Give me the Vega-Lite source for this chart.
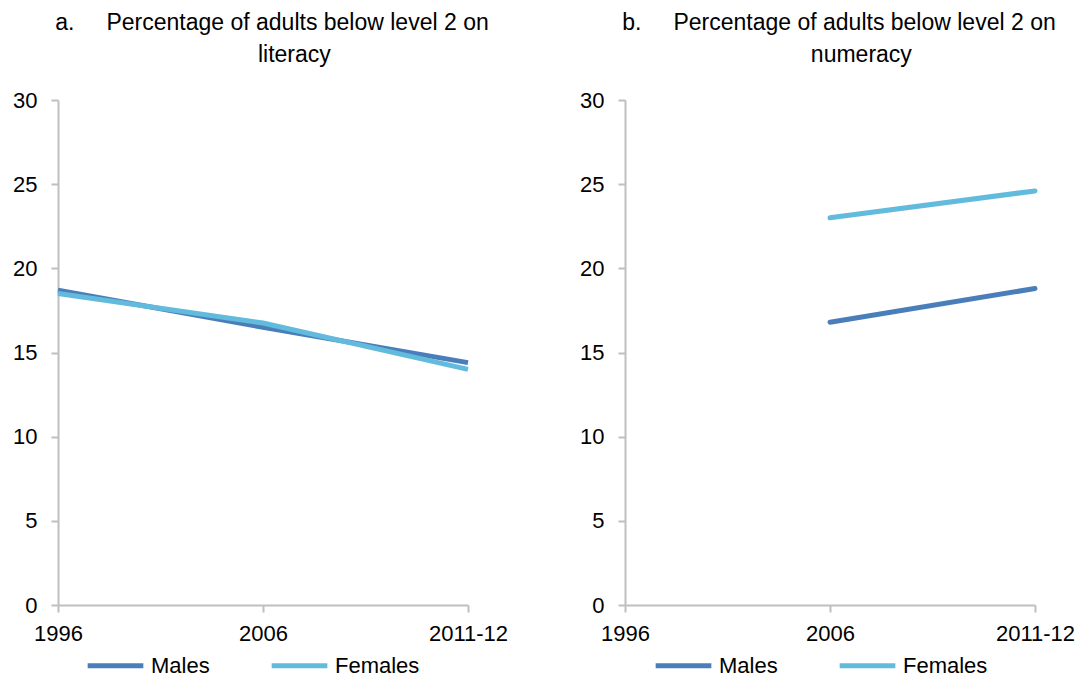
{
  "$schema": "https://vega.github.io/schema/vega-lite/v6.json",
  "background": "white",
  "padding": {"left": 12, "top": 12, "right": 5, "bottom": 5},
  "datasets": {
    "literacy": [
      {"year": "1996", "sex": "Males", "value": 18.7},
      {"year": "2006", "sex": "Males", "value": 16.5},
      {"year": "2011-12", "sex": "Males", "value": 14.4},
      {"year": "1996", "sex": "Females", "value": 18.5},
      {"year": "2006", "sex": "Females", "value": 16.75},
      {"year": "2011-12", "sex": "Females", "value": 14.0}
    ],
    "numeracy": [
      {"year": "2006", "sex": "Males", "value": 16.8},
      {"year": "2011-12", "sex": "Males", "value": 18.8},
      {"year": "2006", "sex": "Females", "value": 23.0},
      {"year": "2011-12", "sex": "Females", "value": 24.6}
    ]
  },
  "config": {
    "font": "Liberation Sans",
    "view": {"stroke": null},
    "title": {"font": "Liberation Sans", "fontSize": 23, "fontWeight": "normal", "color": "#000000", "anchor": "middle", "lineHeight": 32, "offset": 22, "dx": 9},
    "axis": {
      "labelFont": "Liberation Sans", "labelFontSize": 22, "labelColor": "#000000",
      "domainColor": "#bfbfbf", "domainWidth": 2, "tickColor": "#bfbfbf", "tickWidth": 2, "tickSize": 7,
      "grid": false, "title": null
    },
    "legend": {"labelFontSize": 22, "labelColor": "#000000", "labelFont": "Liberation Sans"}
  },
  "hconcat": [
    {
      "width": 410, "height": 505,
      "title": {"text": ["a.\u00a0\u00a0\u00a0\u00a0\u00a0Percentage of adults below level 2 on", "\u200b\u00a0\u00a0\u00a0\u00a0\u00a0\u00a0\u00a0literacy"]},
      "data": {"name": "literacy"},
      "mark": {"type": "line", "strokeWidth": 5, "strokeCap": "butt"},
      "encoding": {
        "x": {"field": "year", "type": "ordinal", "scale": {"type": "point", "domain": ["1996", "2006", "2011-12"], "padding": 0},
              "axis": {"labelAngle": 0, "labelPadding": 11, "labelFlush": false}},
        "y": {"field": "value", "type": "quantitative", "scale": {"domain": [0, 30], "nice": false},
              "axis": {"values": [0, 5, 10, 15, 20, 25, 30], "labelPadding": 14}},
        "color": {"field": "sex", "type": "nominal", "sort": ["Males", "Females"],
                  "scale": {"domain": ["Males", "Females"], "range": ["#4a7ebb", "#62bbdc"]},
                  "legend": {"title": null, "orient": "none", "direction": "horizontal", "legendX": 27, "legendY": 535,
                             "symbolType": "stroke", "symbolSize": 3100, "symbolStrokeWidth": 5, "labelOffset": 5,
                             "columnPadding": 51, "padding": 0}}
      }
    },
    {
      "width": 410, "height": 505,
      "title": {"text": ["b.\u00a0\u00a0\u00a0\u00a0\u00a0Percentage of adults below level 2 on", "\u200b\u00a0\u00a0\u00a0\u00a0\u00a0\u00a0\u00a0numeracy"]},
      "data": {"name": "numeracy"},
      "mark": {"type": "line", "strokeWidth": 5, "strokeCap": "round"},
      "encoding": {
        "x": {"field": "year", "type": "ordinal", "scale": {"type": "point", "domain": ["1996", "2006", "2011-12"], "padding": 0},
              "axis": {"labelAngle": 0, "labelPadding": 11, "labelFlush": false}},
        "y": {"field": "value", "type": "quantitative", "scale": {"domain": [0, 30], "nice": false},
              "axis": {"values": [0, 5, 10, 15, 20, 25, 30], "labelPadding": 14}},
        "color": {"field": "sex", "type": "nominal", "sort": ["Males", "Females"],
                  "scale": {"domain": ["Males", "Females"], "range": ["#4a7ebb", "#62bbdc"]},
                  "legend": {"title": null, "orient": "none", "direction": "horizontal", "legendX": 28, "legendY": 535,
                             "symbolType": "stroke", "symbolSize": 3100, "symbolStrokeWidth": 5, "labelOffset": 5,
                             "columnPadding": 51, "padding": 0}}
      }
    }
  ],
  "bounds": "flush",
  "spacing": 157,
  "resolve": {"scale": {"color": "independent"}, "legend": {"color": "independent"}}
}
